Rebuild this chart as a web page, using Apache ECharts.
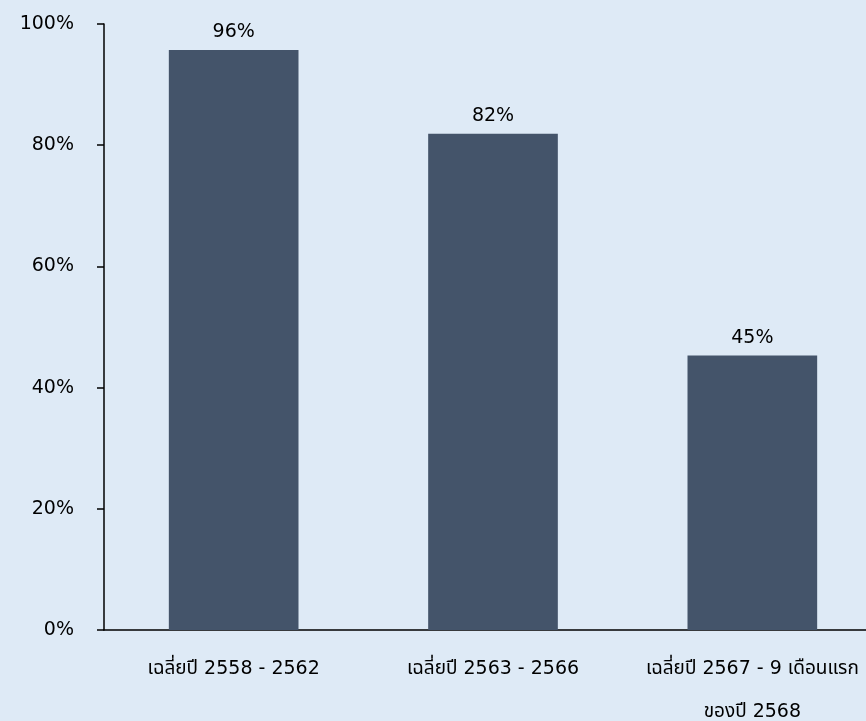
<!DOCTYPE html>
<html><head><meta charset="utf-8">
<script src="https://cdn.jsdelivr.net/npm/echarts@6/dist/echarts.min.js"></script>
<style>html,body{margin:0;padding:0;background:#DEEAF6;}#c{width:866px;height:721px;}</style>
</head><body><div id="c"></div>
<script>
const categories = ['เฉลี่ยปี 2558 - 2562', 'เฉลี่ยปี 2563 - 2566', 'เฉลี่ยปี 2567 - 9 เดือนแรก\nของปี 2568'];
const values = [95.7, 81.9, 45.3];
const yTicks = [0, 20, 40, 60, 80, 100];
const font = '"DejaVu Sans", "Noto Sans Thai", "Noto Sans", sans-serif';
const chart = echarts.init(document.getElementById('c'));
chart.setOption({
  backgroundColor: '#DEEAF6',
  animation: false,
  grid: {left: 104, right: -16, top: 24, bottom: 91, containLabel: false, outerBoundsMode: 'none'},
  xAxis: {
    type: 'category', data: categories,
    axisLine: {lineStyle: {color: '#000', width: 1.5}},
    axisTick: {show: false},
    axisLabel: {color: '#000', fontFamily: font, fontSize: 19, margin: 18, lineHeight: 43, interval: 0, hideOverlap: false}
  },
  yAxis: {
    type: 'value', min: yTicks[0], max: yTicks[yTicks.length-1], interval: 20,
    splitLine: {show: false},
    axisLine: {show: true, lineStyle: {color: '#000', width: 1.5}},
    axisTick: {show: true, length: 7, lineStyle: {color: '#000', width: 1.5}},
    axisLabel: {color: '#000', fontFamily: font, fontSize: 19, margin: 30, formatter: v => v + '%'}
  },
  series: [{
    type: 'bar', data: values, barWidth: '50%',
    itemStyle: {color: '#44546A'},
    label: {show: true, position: 'top', distance: 8, color: '#000', fontFamily: font, fontSize: 19,
      formatter: p => Math.round(p.value) + '%'}
  }]
});
</script></body></html>
